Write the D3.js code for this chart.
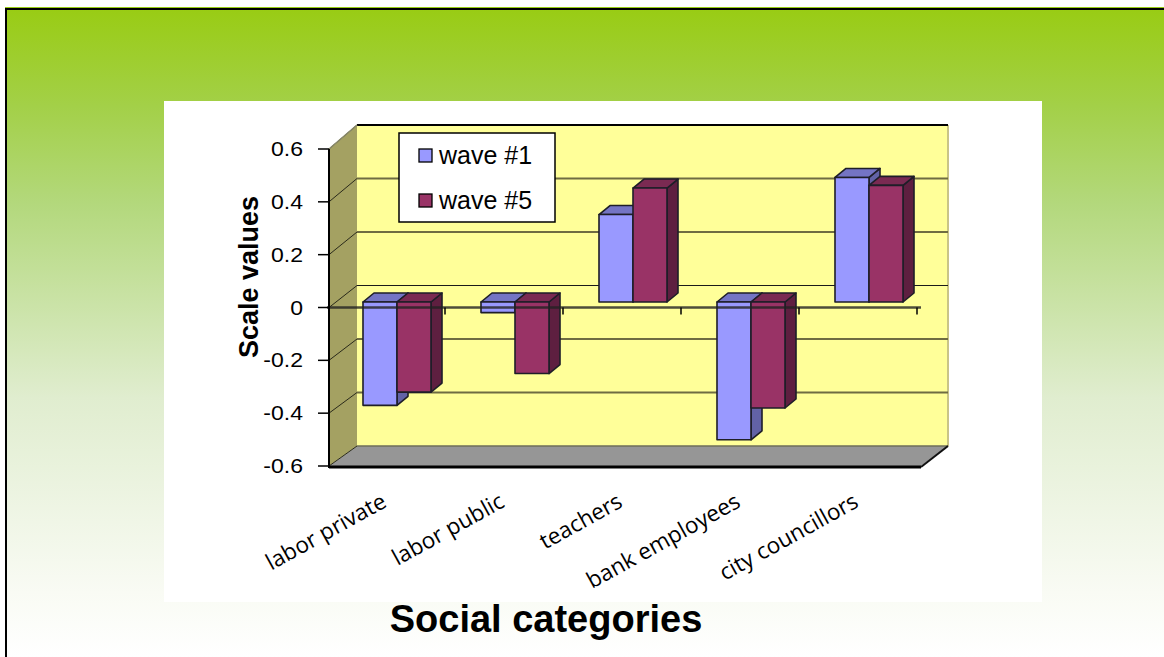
<!DOCTYPE html>
<html>
<head>
<meta charset="utf-8">
<script src="https://cdn.jsdelivr.net/npm/d3@7"></script>
<style>
  html, body { margin: 0; padding: 0; background: #ffffff; }
  svg { display: block; }
</style>
</head>
<body>
<svg id="chart" width="1164" height="657"></svg>
<script>
// ---- data ----
const categories = ["labor private", "labor public", "teachers", "bank employees", "city councillors"];
const seriesNames = ["wave #1", "wave #5"];
const wave1 = [-0.39, -0.04, 0.33, -0.52, 0.47];
const wave5 = [-0.34, -0.27, 0.43, -0.40, 0.44];
const yTickValues = [-0.6, -0.4, -0.2, 0, 0.2, 0.4, 0.6];
const yTickLabels = ["-0.6", "-0.4", "-0.2", "0", "0.2", "0.4", "0.6"];

const series = [
  { name: seriesNames[0], values: wave1, front: "#9999ff", top: "#7474c4", side: "#6262a6" },
  { name: seriesNames[1], values: wave5, front: "#993366", top: "#7a2a52", side: "#5e1f40" }
];

const svg = d3.select("#chart");

// ---- slide background ----
const defs = svg.append("defs");
const grad = defs.append("linearGradient")
  .attr("id", "slideBg")
  .attr("gradientUnits", "userSpaceOnUse")
  .attr("x1", 0).attr("y1", 9).attr("x2", 0).attr("y2", 657);
[[0, "#99cc14"], [0.15, "#a3d048"], [0.3, "#b3d87c"], [0.6, "#e0edcf"], [0.9, "#f9fbf4"], [1, "#ffffff"]]
  .forEach(([o, c]) => grad.append("stop").attr("offset", o).attr("stop-color", c));

svg.append("rect").attr("x", 0).attr("y", 0).attr("width", 1164).attr("height", 657).attr("fill", "#ffffff");
svg.append("rect").attr("x", 6).attr("y", 9).attr("width", 1158).attr("height", 648).attr("fill", "url(#slideBg)");
svg.append("line").attr("x1", 5).attr("x2", 1164).attr("y1", 7.5).attr("y2", 7.5).attr("stroke", "#99cc14").attr("stroke-width", 1);
svg.append("line").attr("x1", 5).attr("x2", 1164).attr("y1", 9).attr("y2", 9).attr("stroke", "#000").attr("stroke-width", 2);
svg.append("line").attr("x1", 6).attr("x2", 6).attr("y1", 8).attr("y2", 657).attr("stroke", "#000").attr("stroke-width", 2);

// white chart panel
svg.append("rect").attr("x", 164).attr("y", 101).attr("width", 878).attr("height", 501).attr("fill", "#ffffff");

// ---- scales ----
const yFront = d3.scaleLinear().domain([-0.6, 0.6]).range([466, 149]);
const yBack = d3.scaleLinear().domain([-0.6, 0.6]).range([446, 125]);
const yBar = d3.scaleLinear().domain([-0.6, 0.6]).range([461, 143]);

const xFront = d3.scaleBand().domain(categories).range([327, 917]).paddingInner(0.4237).paddingOuter(0.21185);
const xSeries = d3.scaleBand().domain(seriesNames).range([0, xFront.bandwidth()]);

const wallFrontX = 329, wallBackX = 357, backRightX = 948, floorFrontRightX = 921;
const barShiftX = 11;          // bars sit slightly behind the front plane
const boxDX = 11, boxDY = -9;  // depth of each column

const g = svg.append("g");

// left side wall
g.append("path")
  .attr("d", `M${wallFrontX},${yFront(0.6)} L${wallBackX},${yBack(0.6)} L${wallBackX},${yBack(-0.6)} L${wallFrontX},${yFront(-0.6)} Z`)
  .attr("fill", "#a4a162");

// back wall
g.append("rect")
  .attr("x", wallBackX).attr("y", yBack(0.6))
  .attr("width", backRightX - wallBackX).attr("height", yBack(-0.6) - yBack(0.6))
  .attr("fill", "#ffff99");
g.append("line")
  .attr("x1", backRightX).attr("x2", backRightX).attr("y1", yBack(0.6)).attr("y2", yBack(-0.6))
  .attr("stroke", "#c9c487").attr("stroke-width", 2);

// floor
g.append("path")
  .attr("d", `M${wallFrontX},${yFront(-0.6)} L${wallBackX},${yBack(-0.6)} L${backRightX},${yBack(-0.6)} L${floorFrontRightX},${yFront(-0.6)} Z`)
  .attr("fill", "#969696");
g.append("line")
  .attr("x1", wallBackX).attr("x2", backRightX).attr("y1", yBack(-0.6)).attr("y2", yBack(-0.6))
  .attr("stroke", "#6e6e5a").attr("stroke-width", 1.5);

// gridlines on back wall and side wall
const inner = yTickValues.filter(v => v > -0.6 && v < 0.6);
g.selectAll(".gridBack").data(inner).join("line")
  .attr("x1", wallBackX).attr("x2", backRightX)
  .attr("y1", d => yBack(d)).attr("y2", d => yBack(d))
  .attr("stroke", d => d === 0 ? "#1a1a1a" : "#6f6c42")
  .attr("stroke-width", d => d === 0 ? 1.2 : 2.2);
g.selectAll(".gridSide").data(yTickValues).join("line")
  .attr("x1", wallFrontX).attr("x2", wallBackX)
  .attr("y1", d => yFront(d)).attr("y2", d => yBack(d))
  .attr("stroke", "#2a2a1a").attr("stroke-width", 1);

// top edge of back wall
g.append("line")
  .attr("x1", wallBackX).attr("x2", backRightX).attr("y1", yBack(0.6)).attr("y2", yBack(0.6))
  .attr("stroke", "#000").attr("stroke-width", 2);
g.append("line")
  .attr("x1", wallFrontX).attr("x2", wallBackX).attr("y1", yFront(0.6)).attr("y2", yBack(0.6))
  .attr("stroke", "#8a8a6a").attr("stroke-width", 1.5);

// ---- columns ----
const bars = g.append("g");
categories.forEach((cat, i) => {
  series.forEach(s => {
    const v = s.values[i];
    const x0 = xFront(cat) + barShiftX + xSeries(s.name);
    const x1 = x0 + xSeries.bandwidth();
    const yTop = yBar(Math.max(v, 0));
    const yBot = yBar(Math.min(v, 0));
    const grp = bars.append("g")
      .attr("stroke", "#1e1e28").attr("stroke-width", 1.6).attr("stroke-linejoin", "round");
    // right side face
    grp.append("path")
      .attr("d", `M${x1},${yTop} L${x1 + boxDX},${yTop + boxDY} L${x1 + boxDX},${yBot + boxDY} L${x1},${yBot} Z`)
      .attr("fill", s.side);
    // top face
    grp.append("path")
      .attr("d", `M${x0},${yTop} L${x0 + boxDX},${yTop + boxDY} L${x1 + boxDX},${yTop + boxDY} L${x1},${yTop} Z`)
      .attr("fill", s.top);
    // front face
    grp.append("rect")
      .attr("x", x0).attr("y", yTop)
      .attr("width", x1 - x0).attr("height", Math.max(yBot - yTop, 0.5))
      .attr("fill", s.front);
  });
});

// ---- front axes ----
// zero line across the front, drawn over the columns
g.append("line")
  .attr("x1", 327).attr("x2", 921).attr("y1", yFront(0)).attr("y2", yFront(0))
  .attr("stroke", "#222").attr("stroke-opacity", 0.8).attr("stroke-width", 2.5);
const catTicks = categories.map(c => xFront(c) + xFront.bandwidth() + xFront.step() * xFront.paddingInner() / 2);
g.selectAll(".xtick").data(catTicks).join("line")
  .attr("x1", d => d).attr("x2", d => d)
  .attr("y1", yFront(0)).attr("y2", yFront(0) + 7)
  .attr("stroke", "#000").attr("stroke-width", 1.5);

// vertical value axis
g.append("line")
  .attr("x1", wallFrontX).attr("x2", wallFrontX).attr("y1", yFront(0.6)).attr("y2", yFront(-0.6) + 2)
  .attr("stroke", "#000").attr("stroke-width", 2);
g.selectAll(".ytick").data(yTickValues).join("line")
  .attr("x1", 318).attr("x2", wallFrontX)
  .attr("y1", d => yFront(d)).attr("y2", d => yFront(d))
  .attr("stroke", "#000").attr("stroke-width", 1.5);

// floor front edge
g.append("line")
  .attr("x1", wallFrontX).attr("x2", floorFrontRightX).attr("y1", yFront(-0.6) + 1).attr("y2", yFront(-0.6) + 1)
  .attr("stroke", "#000").attr("stroke-width", 3);
g.append("line")
  .attr("x1", floorFrontRightX).attr("x2", backRightX).attr("y1", yFront(-0.6) + 1).attr("y2", yBack(-0.6))
  .attr("stroke", "#111").attr("stroke-width", 2);

// tick labels
g.selectAll(".ylab").data(yTickValues).join("text")
  .attr("transform", d => `translate(303,${yFront(d)}) scale(1.18,1)`)
  .attr("dy", "0.36em")
  .attr("text-anchor", "end")
  .attr("font-family", "Liberation Sans, Arial, sans-serif")
  .attr("font-size", 19.5)
  .attr("fill", "#000")
  .text((d, i) => yTickLabels[i]);

// category labels
g.selectAll(".xlab").data(categories).join("text")
  .attr("transform", d => `translate(${xFront(d) + xFront.bandwidth() / 2 + 2},506) rotate(-29)`)
  .attr("text-anchor", "end")
  .attr("font-family", "Open Sans, sans-serif")
  .attr("font-size", 22.5)
  .attr("fill", "#000")
  .text(d => d);

// axis titles
svg.append("text")
  .attr("transform", "translate(258,277) rotate(-90)")
  .attr("text-anchor", "middle")
  .attr("font-family", "Liberation Sans, Arial, sans-serif")
  .attr("font-weight", "bold")
  .attr("font-size", 27)
  .attr("fill", "#000")
  .text("Scale values");

svg.append("text")
  .attr("x", 546).attr("y", 632)
  .attr("text-anchor", "middle")
  .attr("font-family", "Liberation Sans, Arial, sans-serif")
  .attr("font-weight", "bold")
  .attr("font-size", 38)
  .attr("fill", "#000")
  .text("Social categories");

// ---- legend ----
const legend = svg.append("g").attr("transform", "translate(399,133)");
legend.append("rect").attr("width", 156).attr("height", 89)
  .attr("fill", "#fff").attr("stroke", "#000").attr("stroke-width", 1.5);
series.forEach((s, i) => {
  const row = legend.append("g").attr("transform", `translate(0,${22 + i * 45})`);
  row.append("rect").attr("x", 20).attr("y", -6).attr("width", 13).attr("height", 13)
    .attr("fill", s.front).attr("stroke", "#000").attr("stroke-width", 1.3);
  row.append("text").attr("x", 40).attr("y", 9)
    .attr("font-family", "Liberation Sans, Arial, sans-serif")
    .attr("font-size", 25).attr("fill", "#000")
    .text(s.name);
});
</script>
</body>
</html>
